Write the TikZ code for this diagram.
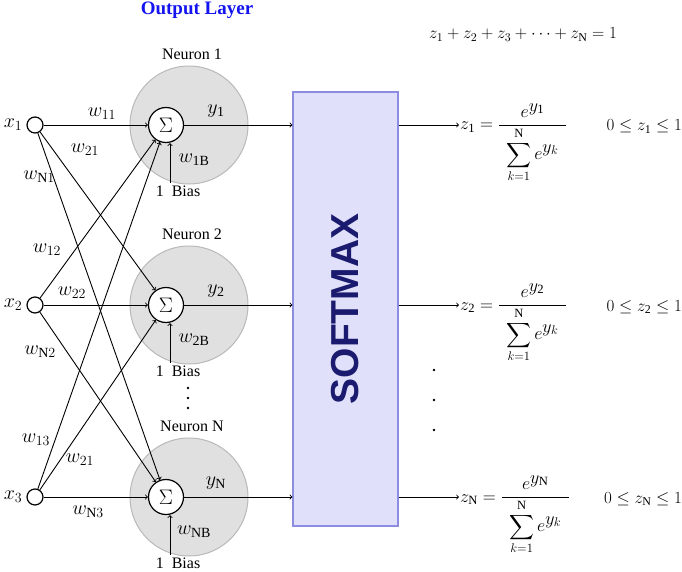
\RequirePackage{fix-cm}
\documentclass[tikz,border=0pt]{standalone}
\usepackage{amsmath}
\usepackage{exscale}
\usepackage{fontspec}
\setmainfont{Liberation Serif}
\newfontfamily\boxfont{Liberation Sans}
\usetikzlibrary{positioning}
\definecolor{nrfill}{RGB}{224,224,224}
\definecolor{nrdraw}{RGB}{185,185,185}
\definecolor{smfill}{RGB}{224,224,250}
\definecolor{smdraw}{RGB}{140,140,225}
\definecolor{smtext}{RGB}{26,26,110}
\definecolor{titleblue}{RGB}{20,20,240}

\begin{document}
\begin{tikzpicture}[x=1pt,y=-1pt,>=to,
  every node/.style={font=\fontsize{16}{18}\selectfont},
  lbl/.style={font=\fontsize{20}{22}\selectfont,inner sep=1pt},
  inp/.style={circle,draw,line width=1.2pt,minimum size=16pt,inner sep=0pt},
  sumnode/.style={circle,draw,line width=1.2pt,fill=white,minimum size=35pt,inner sep=0pt},
  body/.style={fill=nrfill,draw=nrdraw,line width=1pt},
  wire/.style={->,line width=0.9pt}]
\useasboundingbox (0,0) rectangle (682,572);

\node[font=\fontsize{19}{21}\selectfont\bfseries,text=titleblue] (title) at (197,10) {Output Layer};

%% neurons
\foreach \n/\cy in {1/125,2/305,N/497}
{
  \filldraw[body] (189,\cy) circle (59pt);
  \node[sumnode,font=\fontsize{21}{23}\selectfont] (s\n) at (166,\cy) {$\Sigma$};
  \node (nl\n) at (192,\cy-71) {Neuron \n};
  \node (b\n) at (178,\cy+66) {1\enspace Bias};
  \coordinate (cb\n) at (170,\cy+58);
  \draw[wire] (cb\n) -- (cb\n |- s\n.south);
  \node[lbl] (wb\n) at (194,\cy+35) {$w_{\mathrm{\n B}}$};
  \node[lbl] (y\n) at (216,\cy-14) {$y_{\mathrm{\n}}$};
}
\foreach \d in {388,398,408}
  \fill (188,\d) circle (1.4pt);

%% inputs
\foreach \i/\cy in {1/125,2/305,3/497}
{
  \node[inp] (x\i) at (35,\cy) {};
  \node[lbl] (lx\i) at (13,\cy) {$x_{\i}$};
}
\foreach \a/\b in {x1/s1,x1/s2,x1/sN,x2/s1,x2/s2,x2/sN,x3/s1,x3/s2,x3/sN}
  \draw[wire] (\a) -- (\b);

%% weights
\foreach \w/\p in {{11}/{102,114},{21}/{85,150},{\mathrm{N}1}/{39,177},
                   {12}/{47,250},{22}/{72,293},{\mathrm{N}2}/{40,352},
                   {13}/{36,440},{21}/{80,460},{\mathrm{N}3}/{88,512}}
  \node[lbl] at (\p) {$w_{\w}$};

%% softmax
\node[draw=smdraw,fill=smfill,line width=1.2pt,minimum width=105pt,minimum height=434pt,inner sep=0pt]
  (sm) at (345.5,309) {\rotatebox{90}{\boxfont\bfseries\fontsize{39}{40}\selectfont\color{smtext}SOFTMAX}};

\foreach \n/\cy in {1/125,2/305,N/497}
{
  \draw[wire] (s\n.east) -- (s\n.east -| sm.west);
  \node[anchor=base west,inner sep=1pt,font=\fontsize{18}{20}\selectfont] (z\n) at (459,\cy+5)
    {$z_{\mathrm{\n}} = \dfrac{e^{\textstyle y_{\mathrm{\n}}}}{\hspace{7pt}\displaystyle\sum_{k=1}^{\mathrm{N}} e^{\textstyle y_k}\hspace{7pt}}$};
  \draw[wire] (sm.east |- s\n) -- (s\n -| z\n.west);
  \node[anchor=base east,inner sep=0pt,font=\fontsize{17}{19}\selectfont] (r\n) at (682,\cy+6) {$0\le z_{\mathrm{\n}}\le 1$};
}
\foreach \d in {370,400,430}
  \fill (434,\d) circle (1.4pt);

\node[anchor=base,font=\fontsize{17}{19}\selectfont] (total) at (523,39) {$z_1+z_2+z_3+\cdots+z_{\mathrm{N}}=1$};
\end{tikzpicture}
\end{document}
